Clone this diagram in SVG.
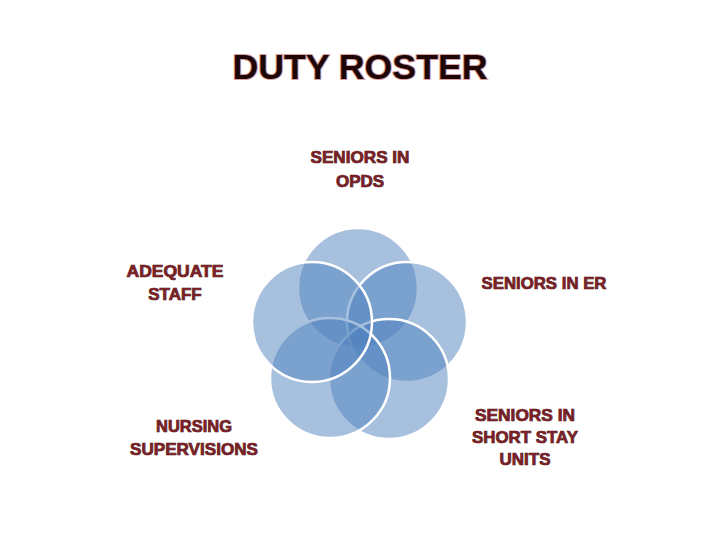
<svg xmlns="http://www.w3.org/2000/svg" width="720" height="540" viewBox="0 0 720 540">
<style>
.c{fill:#4f81bd;fill-opacity:0.5;stroke:#fff;stroke-width:2.5}
.t{font-family:"Liberation Sans",Arial,sans-serif;font-weight:bold;text-anchor:middle}
.title{font-size:35px;fill:#1e0606;stroke:#d8a0a0;stroke-width:2;paint-order:stroke}
.lb{font-size:17px;fill:#7a1f26;stroke:#3a0808;stroke-width:0.7;paint-order:stroke}
</style>
<rect width="720" height="540" fill="#fff"/>
<g id="title"><text class="t title" x="360" y="79" textLength="255" lengthAdjust="spacingAndGlyphs">DUTY ROSTER</text></g>
<g id="venn">
<circle id="c-top" class="c" cx="358" cy="288" r="60"/>
<circle id="c-right" class="c" cx="407" cy="322" r="60"/>
<circle id="c-bottom-right" class="c" cx="389" cy="379" r="60"/>
<circle id="c-bottom-left" class="c" cx="330" cy="378" r="60"/>
<circle id="c-left" class="c" cx="312" cy="322" r="60"/>
</g>
<g id="label-opds"><text class="t lb" x="360" y="163" textLength="99" lengthAdjust="spacingAndGlyphs">SENIORS IN</text><text class="t lb" x="360" y="187">OPDS</text></g>
<g id="label-staff"><text class="t lb" x="175" y="277" textLength="97" lengthAdjust="spacingAndGlyphs">ADEQUATE</text><text class="t lb" x="175" y="300">STAFF</text></g>
<g id="label-er"><text class="t lb" x="544" y="289" textLength="125" lengthAdjust="spacingAndGlyphs">SENIORS IN ER</text></g>
<g id="label-nursing"><text class="t lb" x="194" y="432" textLength="76" lengthAdjust="spacingAndGlyphs">NURSING</text><text class="t lb" x="194" y="455" textLength="128" lengthAdjust="spacingAndGlyphs">SUPERVISIONS</text></g>
<g id="label-short"><text class="t lb" x="525" y="421" textLength="100" lengthAdjust="spacingAndGlyphs">SENIORS IN</text><text class="t lb" x="525" y="443" textLength="106" lengthAdjust="spacingAndGlyphs">SHORT STAY</text><text class="t lb" x="525" y="465">UNITS</text></g>
</svg>
